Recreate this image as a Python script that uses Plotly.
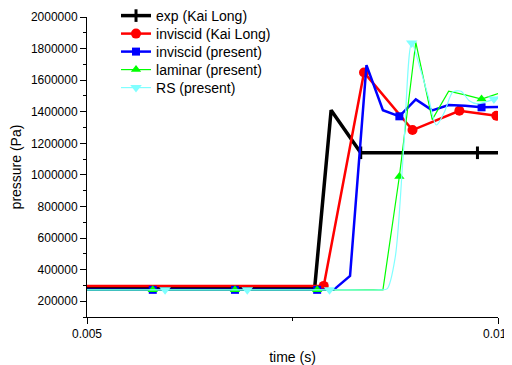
import plotly.graph_objects as go

# ---- data ----
exp_t = [0.0050, 0.00777, 0.00797, 0.00833, 0.00975, 0.0100]
exp_p = [285000, 285000, 1410000, 1140000, 1140000, 1140000]
exp_marked = [3, 4]

kl_t = [0.0050, 0.00788, 0.00837, 0.00896, 0.00953, 0.00998]
kl_p = [297000, 297000, 1649000, 1284000, 1406000, 1375000]
kl_marked = [1, 2, 3, 4, 5]

inv_t = [0.0050, 0.0058, 0.0068, 0.0078, 0.0080, 0.0082, 0.0084, 0.0086,
         0.0088, 0.0090, 0.0092, 0.0094, 0.0096, 0.0098, 0.0100]
inv_p = [272000, 272000, 272000, 272000, 272000, 360000, 1695000, 1410000,
         1371000, 1478000, 1409000, 1442000, 1438000, 1428000, 1430000]
inv_marked = [1, 2, 3, 8, 13]

lam_t = [0.0050, 0.0058, 0.0068, 0.0078, 0.0086, 0.0088, 0.0090, 0.0092,
         0.0094, 0.0096, 0.0098, 0.0100]
lam_p = [272000, 272000, 272000, 272000, 272000, 990000, 1840000, 1350000,
         1530000, 1507000, 1480000, 1515000]
lam_marked = [1, 2, 3, 5, 10]

rs_t = [0.0050, 0.00595, 0.00695, 0.00795, 0.00855, 0.00865, 0.00875, 0.00885,
        0.00895, 0.00905, 0.00915, 0.00925, 0.00935, 0.00945, 0.00955, 0.00965,
        0.00975, 0.00985, 0.00995, 0.0100]
rs_p = [272000, 272000, 272000, 272000, 272000, 278000, 480000, 1150000,
        1836000, 1680000, 1500000, 1316000, 1400000, 1525000, 1530000, 1470000,
        1450000, 1462000, 1480000, 1495000]
rs_marked = [1, 2, 3, 8, 18]

names = ["exp (Kai Long)", "inviscid (Kai Long)", "inviscid (present)",
         "laminar (present)", "RS (present)"]

x_tickvals = [0.005, 0.010]
x_ticktext = ["0.005", "0.010"]
y_tickvals = [200000, 400000, 600000, 800000, 1000000, 1200000, 1400000,
              1600000, 1800000, 2000000]

FONT = "Liberation Sans, Arial, sans-serif"

series = [
    (exp_t, exp_p, exp_marked, "#000000", 3.5,
     dict(symbol="line-ns", size=9, color="#000000", line=dict(width=3, color="#000000"))),
    (kl_t, kl_p, kl_marked, "#ff0000", 2.5,
     dict(symbol="circle", size=10, color="#ff0000")),
    (inv_t, inv_p, inv_marked, "#0000ff", 2.5,
     dict(symbol="square", size=8, color="#0000ff")),
    (lam_t, lam_p, lam_marked, "#00ff00", 1.2,
     dict(symbol="triangle-up", size=9, color="#00ff00")),
    (rs_t, rs_p, rs_marked, "#80ffff", 1.2,
     dict(symbol="triangle-down", size=10, color="#80ffff")),
]

fig = go.Figure()
# legend row centres, in pixels below the top of the plot area
legend_rows_px = [-1, 17, 35, 53, 71]
plot_h = 300

for i, (t, p, marked, color, lw, mk) in enumerate(series):
    lname = "legend" if i == 0 else f"legend{i+1}"
    line = dict(color=color, width=lw)
    if i == 4:
        line.update(shape="spline", smoothing=0.8)
    fig.add_trace(go.Scatter(
        x=t, y=p, mode="lines+markers", name=names[i],
        line=line, marker=mk,
        selectedpoints=marked,
        unselected=dict(marker=dict(opacity=0)),
        legend=lname,
    ))

legend_layouts = {}
for i, py in enumerate(legend_rows_px):
    lname = "legend" if i == 0 else f"legend{i+1}"
    legend_layouts[lname] = dict(
        x=0.0706, xanchor="left",
        y=1 - py / plot_h, yanchor="middle",
        bgcolor="rgba(0,0,0,0)", borderwidth=0,
        font=dict(family=FONT, size=14, color="#000000"),
        itemwidth=30,
    )

# the page body has an 8px margin, so the figure is offset by 8px
fig.update_layout(
    template="none",
    width=504, height=357,
    margin=dict(l=79, r=14, t=9, b=48, autoexpand=False),
    paper_bgcolor="white", plot_bgcolor="white",
    font=dict(family=FONT, size=12, color="#000000"),
    showlegend=True,
    xaxis=dict(
        range=[0.005, 0.010], tickmode="array", tickvals=x_tickvals, ticktext=x_ticktext,
        ticks="outside", ticklen=6, tickwidth=1, tickcolor="#000000",
        showline=True, linecolor="#000000", linewidth=1,
        showgrid=False, zeroline=False, automargin=False,
        ticklabeloverflow="allow",
        minor=dict(tickmode="array", tickvals=[0.0075], ticks="outside", ticklen=3,
                   tickcolor="#000000", showgrid=False),
        title=dict(text="time (s)", font=dict(family=FONT, size=14), standoff=12),
        tickfont=dict(family=FONT, size=12),
    ),
    yaxis=dict(
        range=[100000, 2000000], tickmode="array", tickvals=y_tickvals, tickformat="d",
        ticks="outside", ticklen=6, tickwidth=1, tickcolor="#000000",
        showline=True, linecolor="#000000", linewidth=1,
        showgrid=False, zeroline=False, automargin=False,
        minor=dict(dtick=100000, ticks="outside", ticklen=3, tickcolor="#000000",
                   showgrid=False),
        title=dict(text="pressure (Pa)", font=dict(family=FONT, size=14), standoff=9),
        tickfont=dict(family=FONT, size=12),
    ),
    **legend_layouts,
)

fig.write_html("out.html")
